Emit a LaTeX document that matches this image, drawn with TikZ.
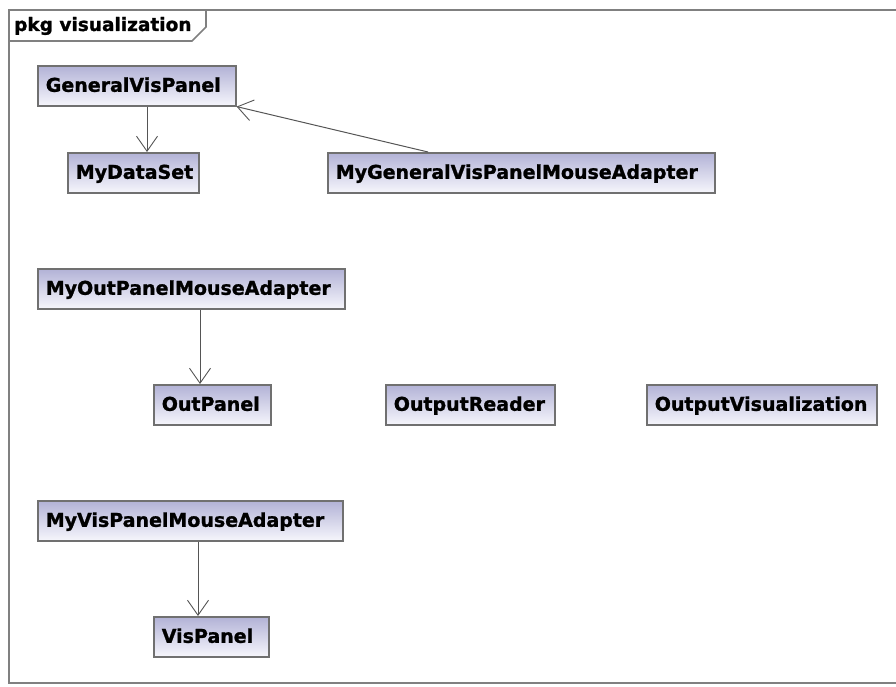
\documentclass[tikz,border=0pt]{standalone}
\usepackage{fontspec}
\usetikzlibrary{arrows.meta}
\newfontfamily\umlfont{DejaVu Sans}[BoldFont={DejaVu Sans Bold},BoldFeatures={FakeBold=1.2}]
\definecolor{clstop}{RGB}{178,178,214}
\definecolor{clsbot}{RGB}{246,246,252}
\definecolor{clsedge}{RGB}{112,112,112}
\definecolor{frameedge}{RGB}{128,128,128}
\definecolor{depline}{RGB}{85,85,85}
\begin{document}
\begin{tikzpicture}[x=1pt,y=-1pt,
  cls/.style={draw=clsedge, line width=1.6pt, top color=clstop, bottom color=clsbot,
    anchor=north west, font=\umlfont\bfseries\fontsize{19}{22}\selectfont,
    inner xsep=8pt, inner ysep=0pt, text height=15pt, text depth=3pt,
    minimum height=40pt, align=left, text width=#1},
  dep/.style={draw=depline, line width=1pt,
    -{Straight Barb[length=15pt,width=21pt,line width=0.9pt]}},
  pkgframe/.style={draw=frameedge, line width=1.6pt}]
\useasboundingbox (0,0) rectangle (896,687);
% package frame and name tab
\draw[pkgframe] (896,10) -- (9,10) -- (9,683) -- (896,683);
\draw[pkgframe] (9,41) -- (192,41) -- (206,27) -- (206,10);
\node[anchor=base west, inner sep=0pt, font=\umlfont\bfseries\fontsize{18.5}{22}\selectfont]
  (pkgname) at (14,31) {pkg visualization};
% classes
\node[cls=182pt] (gvp)  at (37,65)   {GeneralVisPanel};
\node[cls=115pt] (mds)  at (67,152)  {MyDataSet};
\node[cls=371pt] (mga)  at (327,152) {MyGeneralVisPanelMouseAdapter};
\node[cls=291pt] (opma) at (37,268)  {MyOutPanelMouseAdapter};
\node[cls=101pt] (op)   at (153,384) {OutPanel};
\node[cls=153pt] (ordr) at (385,384) {OutputReader};
\node[cls=214pt] (ov)   at (646,384) {OutputVisualization};
\node[cls=289pt] (vpma) at (37,500)  {MyVisPanelMouseAdapter};
\node[cls=99pt]  (vp)   at (153,616) {VisPanel};
% dependencies
\draw[dep] ([xshift=110pt]gvp.south west) -- ([xshift=80pt]mds.north west);
\draw[dep] ([xshift=101pt]mga.north west) -- (gvp.south east);
\draw[dep] ([xshift=163pt]opma.south west) -- ([xshift=47pt]op.north west);
\draw[dep] ([xshift=161pt]vpma.south west) -- ([xshift=45pt]vp.north west);
\end{tikzpicture}
\end{document}
